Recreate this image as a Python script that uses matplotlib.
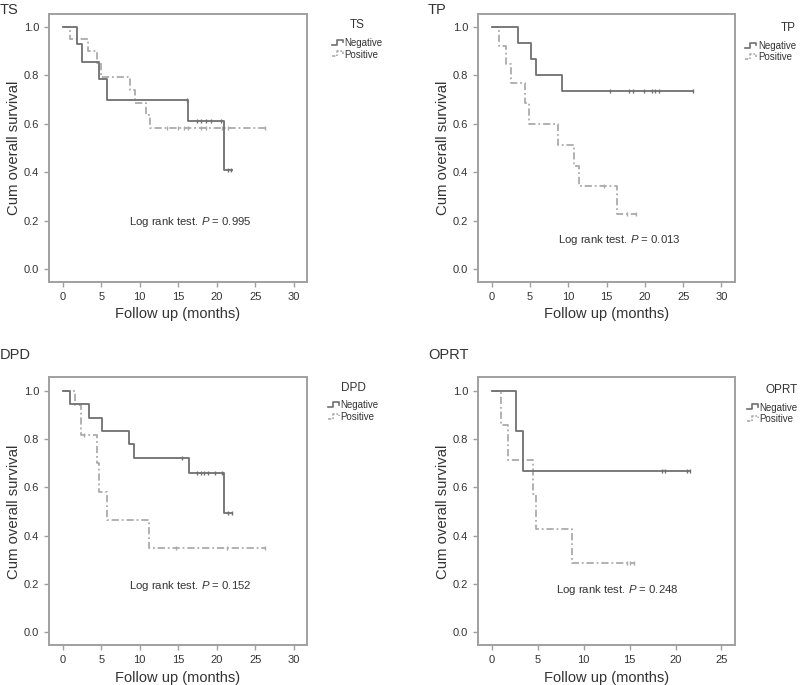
import numpy as np
import matplotlib
matplotlib.use('Agg')
import matplotlib.pyplot as plt
from matplotlib.lines import Line2D
from matplotlib.legend_handler import HandlerBase

plt.rcParams['font.family'] = ['Liberation Sans', 'DejaVu Sans']
plt.rcParams['mathtext.fontset'] = 'custom'
plt.rcParams['mathtext.rm'] = 'Liberation Sans'
plt.rcParams['mathtext.it'] = 'Liberation Sans:italic'

# ---- data (time in months, cumulative survival) ----
ts_neg_t = [0, 1.8, 2.5, 4.7, 5.8, 16.3, 21.0, 22.0]
ts_neg_s = [1.0, 0.929, 0.857, 0.786, 0.70, 0.614, 0.41, 0.41]
ts_neg_c = [16.1, 17.4, 18.0, 18.6, 19.2, 20.5, 21.4, 21.9]
ts_pos_t = [0, 1.0, 3.3, 4.5, 5.0, 8.7, 9.4, 10.8, 11.3, 26.3]
ts_pos_s = [1.0, 0.95, 0.90, 0.85, 0.795, 0.742, 0.687, 0.636, 0.585, 0.585]
ts_pos_c = [13.5, 15.0, 15.7, 16.3, 18.0, 18.6, 20.7, 21.4, 26.2]

tp_neg_t = [0, 3.4, 5.1, 5.8, 9.2, 26.3]
tp_neg_s = [1.0, 0.935, 0.868, 0.802, 0.736, 0.736]
tp_neg_c = [15.4, 17.9, 18.5, 19.9, 20.9, 21.3, 21.8, 26.3]
tp_pos_t = [0, 1.0, 1.8, 2.5, 4.4, 4.8, 8.7, 10.8, 11.4, 16.4, 19.0]
tp_pos_s = [1.0, 0.923, 0.846, 0.767, 0.685, 0.600, 0.512, 0.425, 0.345, 0.23, 0.23]
tp_pos_c = [14.6, 17.6, 18.9]

dpd_neg_t = [0, 1.0, 3.4, 5.1, 8.6, 9.3, 16.4, 21.0, 22.0]
dpd_neg_s = [1.0, 0.944, 0.889, 0.833, 0.778, 0.722, 0.661, 0.496, 0.496]
dpd_neg_c = [15.5, 17.4, 17.9, 18.4, 18.9, 19.8, 20.7, 21.5, 22.0]
dpd_pos_t = [0, 1.6, 2.4, 4.4, 4.7, 5.8, 11.2, 26.3]
dpd_pos_s = [1.0, 0.94, 0.817, 0.70, 0.583, 0.467, 0.35, 0.35]
dpd_pos_c = [2.8, 14.7, 21.3, 26.3]

oprt_neg_t = [0, 2.6, 3.4, 21.6]
oprt_neg_s = [1.0, 0.833, 0.667, 0.667]
oprt_neg_c = [18.5, 18.8, 21.3, 21.6]
oprt_pos_t = [0, 1.0, 1.8, 4.5, 4.8, 8.7, 15.6]
oprt_pos_s = [1.0, 0.857, 0.714, 0.571, 0.428, 0.286, 0.286]
oprt_pos_c = [14.7, 15.0, 15.5]

panels = ['TS', 'TP', 'DPD', 'OPRT']
p_values = ['0.995', '0.013', '0.152', '0.248']
legend_labels = ['Negative', 'Positive']

NEG_COLOR = '#707070'
POS_COLOR = '#ababab'
TXT = '#333333'
SPINE = '#a0a0a0'


class StepHandler(HandlerBase):
    def create_artists(self, legend, orig_handle, xdescent, ydescent,
                       width, height, fontsize, trans):
        x0 = -xdescent
        y0 = -ydescent
        xs = [x0, x0 + 0.45 * width, x0 + 0.45 * width, x0 + width, x0 + width]
        ys = [y0 + 0.2 * height, y0 + 0.2 * height, y0 + 0.9 * height,
              y0 + 0.9 * height, y0 + 0.55 * height]
        ln = Line2D(xs, ys)
        ln.update_from(orig_handle)
        ln.set_data(xs, ys)
        ln.set_transform(trans)
        return [ln]


def surv_at(t, s, x):
    idx = np.searchsorted(t, x, side='right') - 1
    return np.array(s)[idx]


def km_panel(ax, neg, pos, xmax, p, txt_xy):
    nt, ns, nc = neg
    pt, ps, pc = pos
    ax.step(pt, ps, where='post', color=POS_COLOR, lw=1.3, dashes=(4, 1.6, 1, 1.6))
    ax.plot(pc, surv_at(pt, ps, pc), ls='none', marker='|', ms=3.5, mew=1.0, color=POS_COLOR)
    ax.step(nt, ns, where='post', color=NEG_COLOR, lw=1.3)
    ax.plot(nc, surv_at(nt, ns, nc), ls='none', marker='|', ms=3.5, mew=1.0, color=NEG_COLOR)

    ax.set_xlim(-0.06 * xmax, xmax * 1.058)
    ax.set_ylim(-0.053, 1.055)
    ax.set_xticks(np.arange(0, xmax + 1, 5))
    ax.set_yticks(np.arange(0, 1.01, 0.2))
    ax.set_yticklabels(['%.1f' % v for v in np.arange(0, 1.01, 0.2)])
    for sp in ax.spines.values():
        sp.set_color(SPINE)
        sp.set_linewidth(1.4)
    ax.tick_params(colors=SPINE, labelcolor=TXT, labelsize=8, length=3.5, width=1.0)
    ax.set_xlabel('Follow up (months)', fontsize=10.5, color=TXT, labelpad=4)
    ax.set_ylabel('Cum overall survival', fontsize=10.7, color=TXT, labelpad=2)
    ax.text(txt_xy[0], txt_xy[1], 'Log rank test. $P$ = ' + p,
            ha='center', va='center', fontsize=8.2, color=TXT)


fig = plt.figure(figsize=(8, 6.85), dpi=100)

data = [
    ((ts_neg_t, ts_neg_s, ts_neg_c), (ts_pos_t, ts_pos_s, ts_pos_c), 30),
    ((tp_neg_t, tp_neg_s, tp_neg_c), (tp_pos_t, tp_pos_s, tp_pos_c), 30),
    ((dpd_neg_t, dpd_neg_s, dpd_neg_c), (dpd_pos_t, dpd_pos_s, dpd_pos_c), 30),
    ((oprt_neg_t, oprt_neg_s, oprt_neg_c), (oprt_pos_t, oprt_pos_s, oprt_pos_c), 25),
]
rects = [
    [0.061, 0.588, 0.323, 0.392],
    [0.5975, 0.588, 0.321, 0.392],
    [0.061, 0.058, 0.323, 0.391],
    [0.5975, 0.058, 0.321, 0.391],
]
txt_pos = [(16.6, 0.195), (16.6, 0.12), (16.6, 0.193), (13.7, 0.176)]
titles_xy = [(0.0, 0.995), (0.535, 0.995), (0.0, 0.492), (0.535, 0.492)]
legend_xy = [(0.415, 0.972), (0.995, 0.968), (0.41, 0.443), (0.997, 0.44)]
legend_align = ['center', 'right', 'center', 'right']

for i, name in enumerate(panels):
    neg, pos, xmax = data[i]
    ax = fig.add_axes(rects[i])
    km_panel(ax, neg, pos, xmax, p_values[i], txt_pos[i])
    fig.text(titles_xy[i][0], titles_xy[i][1], name, fontsize=10.5, color=TXT,
             ha='left', va='top')
    handles = [Line2D([], [], color=NEG_COLOR, lw=1.2),
               Line2D([], [], color=POS_COLOR, lw=1.2, dashes=(2, 1, 1, 1))]
    loc = 'upper left' if legend_align[i] == 'center' else 'upper right'
    leg = ax.legend(handles, legend_labels, title=name, loc=loc,
                    bbox_to_anchor=legend_xy[i], bbox_transform=fig.transFigure,
                    frameon=False, fontsize=7, title_fontsize=8.5,
                    handlelength=1.1, handletextpad=0.2, labelspacing=0.15,
                    borderpad=0, borderaxespad=0,
                    handler_map={Line2D: StepHandler()})
    leg._legend_box.align = legend_align[i]
    leg._legend_box.sep = 5
    for t in leg.get_texts():
        t.set_color(TXT)
    leg.get_title().set_color(TXT)

fig.savefig('out.png', dpi=100)
